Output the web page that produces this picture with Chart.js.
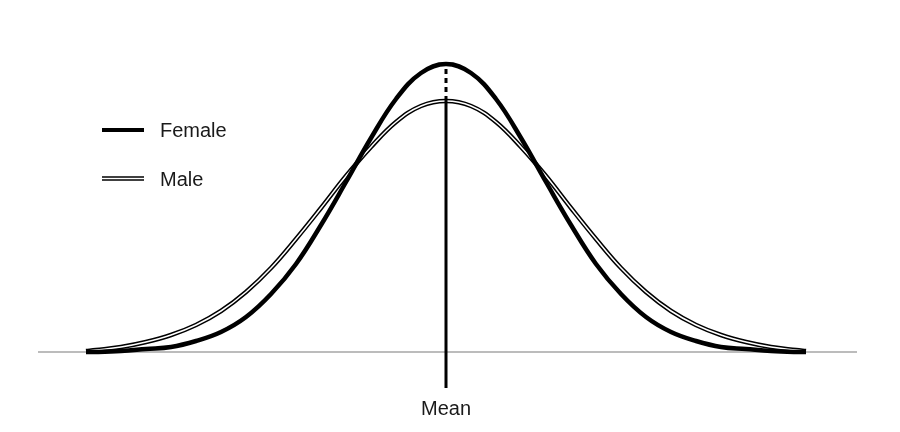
<!DOCTYPE html>
<html>
<head>
<meta charset="utf-8">
<script src="https://cdn.jsdelivr.net/npm/chart.js@4"></script>
<style>
  body { margin: 0; background: #fff; }
  #wrap { width: 900px; height: 432px; }
</style>
</head>
<body>
<div id="wrap"><canvas id="chart" width="900" height="432"></canvas></div>
<script>
// distance from the mean (roughly hundreds of px in the picture)
const xs = [-3.6, -3.5, -3.25, -3, -2.75, -2.5, -2.25, -2, -1.75, -1.5, -1.25, -1, -0.75, -0.5, -0.25,
  0, 0.25, 0.5, 0.75, 1, 1.25, 1.5, 1.75, 2, 2.25, 2.5, 2.75, 3, 3.25, 3.5, 3.6];

// curve heights
const female = [0.00, 0.00, 0.01, 0.03, 0.05, 0.11, 0.20, 0.35, 0.58, 0.88, 1.27, 1.70, 2.14, 2.53, 2.79,
  2.88, 2.79, 2.53, 2.14, 1.70, 1.27, 0.88, 0.58, 0.35, 0.20, 0.11, 0.05, 0.03, 0.01, 0.00, 0.00];
const male = [0.01, 0.02, 0.05, 0.10, 0.17, 0.27, 0.41, 0.60, 0.84, 1.13, 1.44, 1.76, 2.05, 2.30, 2.46,
  2.51, 2.46, 2.30, 2.05, 1.76, 1.44, 1.13, 0.84, 0.60, 0.41, 0.27, 0.17, 0.10, 0.05, 0.02, 0.01];

const baseX = [-4.08, 4.11];
const meanX = 0;
const meanSolid = [-0.36, 2.51];
const meanDotted = [2.51, 2.88];
const meanLabel = 'Mean';
const seriesNames = ['Female', 'Male'];

const pts = (arr) => arr.map((v, i) => ({ x: xs[i], y: v }));

const extras = {
  id: 'extras',
  afterDraw(chart) {
    const { ctx, scales: { x, y } } = chart;
    ctx.save();
    ctx.fillStyle = '#1a1a1a';
    ctx.font = '20px "Liberation Sans", Arial, sans-serif';
    ctx.textAlign = 'center';
    ctx.textBaseline = 'alphabetic';
    ctx.fillText(meanLabel, x.getPixelForValue(meanX), y.getPixelForValue(-0.63));

    // legend
    ctx.textAlign = 'left';
    ctx.lineCap = 'butt';
    ctx.strokeStyle = '#000';
    ctx.lineWidth = 4;
    ctx.beginPath(); ctx.moveTo(102, 130); ctx.lineTo(144, 130); ctx.stroke();
    ctx.fillText(seriesNames[0], 160, 137);

    ctx.lineWidth = 4.5;
    ctx.beginPath(); ctx.moveTo(102, 178.5); ctx.lineTo(144, 178.5); ctx.stroke();
    ctx.strokeStyle = '#fff';
    ctx.lineWidth = 1.5;
    ctx.beginPath(); ctx.moveTo(101, 178.5); ctx.lineTo(145, 178.5); ctx.stroke();
    ctx.fillText(seriesNames[1], 160, 186);
    ctx.restore();
  }
};

const curve = { pointRadius: 0, tension: 0.4, fill: false };

new Chart(document.getElementById('chart'), {
  type: 'line',
  data: {
    datasets: [
      { label: 'base', data: baseX.map(v => ({ x: v, y: 0 })), borderColor: '#7a7a7a', borderWidth: 1.2, pointRadius: 0, order: 6 },
      { label: 'Male', data: pts(male), borderColor: '#000', borderWidth: 4.5, order: 4, ...curve },
      { label: 'Male inner', data: pts(male), borderColor: '#fff', borderWidth: 1.5, order: 3, ...curve },
      { label: 'Female', data: pts(female), borderColor: '#000', borderWidth: 4.5, order: 2, ...curve },
      { label: 'mean', data: meanSolid.map(v => ({ x: meanX, y: v })), borderColor: '#000', borderWidth: 3, pointRadius: 0, order: 1 },
      { label: 'mean top', data: meanDotted.map(v => ({ x: meanX, y: v })), borderColor: '#000', borderWidth: 3, borderDash: [5, 4], pointRadius: 0, order: 1 }
    ]
  },
  options: {
    responsive: false,
    animation: false,
    layout: { padding: 0 },
    plugins: { legend: { display: false }, tooltip: { enabled: false } },
    scales: {
      x: { type: 'linear', min: -4.46, max: 4.54, display: false },
      y: { min: -0.8, max: 3.52, display: false }
    }
  },
  plugins: [extras]
});
</script>
</body>
</html>
